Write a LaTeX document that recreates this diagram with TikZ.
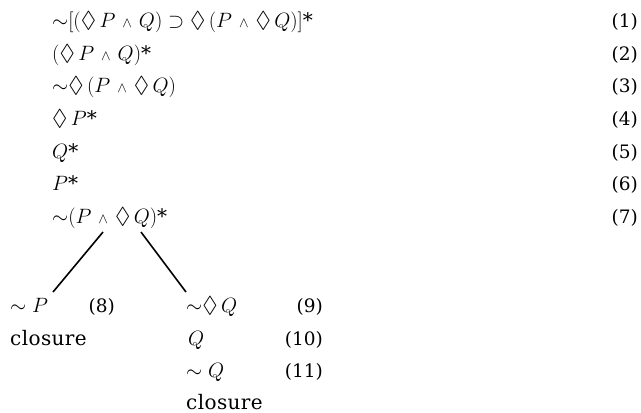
\documentclass[tikz,border=0pt]{standalone}
\usepackage{amssymb}
\usepackage{fontspec}
\newfontfamily\numfont{DejaVu Serif}
\newfontfamily\wordfont[LetterSpace=2]{DejaVu Serif}
\begin{document}
\begin{tikzpicture}[x=1pt,y=-1pt,
  fml/.style={anchor=base west,inner sep=0pt,font=\fontsize{20}{24}\selectfont},
  wrd/.style={anchor=base west,inner sep=0pt,font=\fontsize{20}{24}\wordfont},
  num/.style={anchor=base east,inner sep=0pt,font=\fontsize{18.5}{24}\numfont},
  branch/.style={line width=1.6pt}]
\useasboundingbox (0,0) rectangle (641,413);
\newcommand{\myw}{\mskip2mu\mathbin{\scriptstyle\wedge}\mskip2mu}
\newcommand{\myng}{\mathord{\sim}}
\newcommand{\mydm}{\mathord{\scalebox{1.15}{$\Diamond$}}\,}
\newcommand{\st}{{\numfont *}}
\node[fml] (f1) at (52,27) {$\myng[(\mydm P\myw Q)\supset\mydm(P\myw\mydm Q)]$\st};
\node[fml] (f2) at (52,60) {$(\mydm P\myw Q)$\st};
\node[fml] (f3) at (52,92) {$\myng\mydm(P\myw\mydm Q)$};
\node[fml] (f4) at (52,125) {$\mydm P$\st};
\node[fml] (f5) at (52,158) {$Q$\st};
\node[fml] (f6) at (52,190) {$P$\st};
\node[fml] (f7) at (52,223) {$\myng(P\myw\mydm Q)$\st};
\node[num] (n1) at (638,27) {(1)};
\node[num] (n2) at (638,60) {(2)};
\node[num] (n3) at (638,92) {(3)};
\node[num] (n4) at (638,125) {(4)};
\node[num] (n5) at (638,158) {(5)};
\node[num] (n6) at (638,190) {(6)};
\node[num] (n7) at (638,223) {(7)};
\node[fml] (f8) at (10,312) {$\sim P$};
\node[num] (n8) at (115,312) {(8)};
\node[wrd] (c8) at (10,345) {closure};
\node[fml] (f9) at (186,312) {$\myng\mydm Q$};
\node[num] (n9) at (323,312) {(9)};
\node[fml] (f10) at (188,345) {$Q$};
\node[num] (n10) at (323,345) {(10)};
\node[fml] (f11) at (186,377) {$\sim Q$};
\node[num] (n11) at (323,377) {(11)};
\node[wrd] (c11) at (186,409) {closure};
\coordinate (la) at (103,232);
\coordinate (lb) at (53,292);
\coordinate (ra) at (141,232);
\coordinate (rb) at (186,292);
\draw[branch] (la) -- (lb);
\draw[branch] (ra) -- (rb);
\end{tikzpicture}
\end{document}
